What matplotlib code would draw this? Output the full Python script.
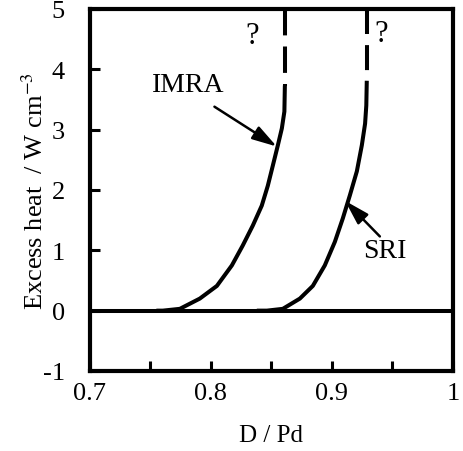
import matplotlib
matplotlib.use('Agg')
import matplotlib.pyplot as plt

plt.rcParams['font.family'] = 'serif'
plt.rcParams['font.serif'] = ['Liberation Serif', 'Times New Roman', 'Nimbus Roman', 'DejaVu Serif']
plt.rcParams['mathtext.fontset'] = 'stix'
plt.rcParams['axes.unicode_minus'] = False
plt.rcParams['lines.scale_dashes'] = False

# solid parts of the curves
imra_x = [0.755, 0.7603, 0.7744, 0.7909, 0.8050, 0.8174, 0.8264, 0.8347, 0.8421,
          0.8471, 0.8512, 0.8554, 0.8587, 0.8608, 0.8612]
imra_y = [0.0, 0.0, 0.03, 0.20, 0.41, 0.75, 1.08, 1.41, 1.74,
          2.07, 2.40, 2.74, 3.02, 3.30, 3.73]
sri_x = [0.838, 0.8463, 0.8595, 0.8736, 0.8843, 0.8942, 0.9025, 0.9091, 0.9149,
         0.9207, 0.9248, 0.9275, 0.9285, 0.9289]
sri_y = [0.0, 0.0, 0.03, 0.20, 0.41, 0.75, 1.14, 1.53, 1.91,
         2.31, 2.74, 3.10, 3.40, 3.81]

# uncertain (dashed) continuation up to the top of the plot
imra_dash_x = [0.8612, 0.8612]
imra_dash_y = [5.0, 3.73]
sri_dash_x = [0.9289, 0.9289]
sri_dash_y = [5.0, 3.81]

xticks = [0.7, 0.75, 0.8, 0.85, 0.9, 0.95, 1.0]
xticklabels = ['0.7', '', '0.8', '', '0.9', '', '1']
yticks = [-1, 0, 1, 2, 3, 4, 5]

fig = plt.figure(figsize=(4.63, 4.52), dpi=100)
ax = fig.add_axes([0.194, 0.177, 0.784, 0.801])
ax.set_xlim(0.7, 1.0)
ax.set_ylim(-1, 5)

lw = 2.9
ax.axhline(0, color='black', lw=lw)
ax.plot(imra_x, imra_y, color='black', lw=lw, solid_capstyle='butt', solid_joinstyle='round')
ax.plot(sri_x, sri_y, color='black', lw=lw, solid_capstyle='butt', solid_joinstyle='round')
ax.plot(imra_dash_x, imra_dash_y, color='black', lw=lw, dashes=(19, 8))
ax.plot(sri_dash_x, sri_dash_y, color='black', lw=lw, dashes=(18, 8))

arrow = dict(arrowstyle='-|>,head_length=0.75,head_width=0.22',
             color='black', lw=1.8, mutation_scale=20, shrinkA=0, shrinkB=0)
ax.annotate('', xy=(0.8545, 2.72), xytext=(0.803, 3.38), arrowprops=arrow)
ax.annotate('', xy=(0.911, 1.82), xytext=(0.9397, 1.23), arrowprops=arrow)

ax.text(0.781, 3.75, 'IMRA', fontsize=20, ha='center', va='center')
ax.text(0.944, 0.99, 'SRI', fontsize=20, ha='center', va='center')
ax.text(0.834, 4.56, '?', fontsize=22, ha='center', va='center')
ax.text(0.941, 4.59, '?', fontsize=22, ha='center', va='center')

ax.set_xticks(xticks)
ax.set_xticklabels(xticklabels)
ax.set_yticks(yticks)
ax.tick_params(axis='x', direction='in', length=7, width=2.2, labelsize=19, pad=8)
ax.tick_params(axis='y', direction='in', length=7, width=2.2, labelsize=19, pad=18)

for side in ['left', 'bottom', 'top', 'right']:
    ax.spines[side].set_linewidth(3)

ax.set_xlabel('D / Pd', fontsize=18, labelpad=14)
ax.set_ylabel(r'Excess heat  / W cm$^{-3}$', fontsize=19, labelpad=-4)

fig.savefig('out.png', dpi=100)
